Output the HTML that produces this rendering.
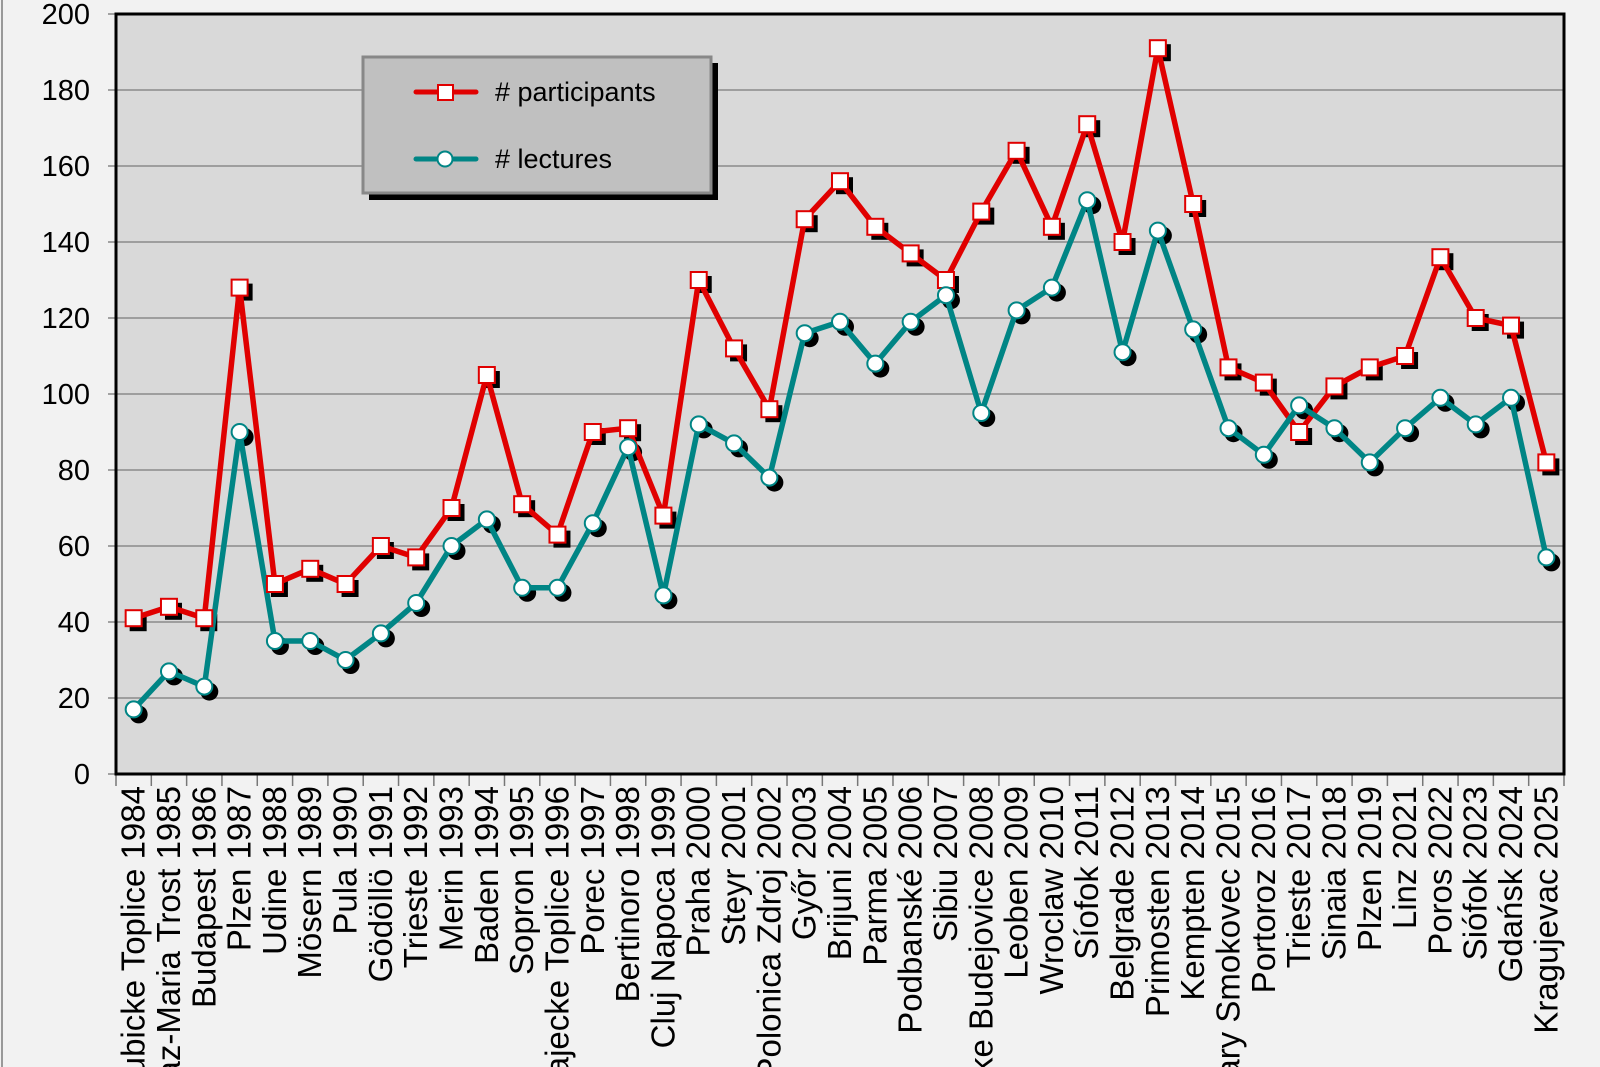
<!DOCTYPE html>
<html><head><meta charset="utf-8"><style>
html,body{margin:0;padding:0;background:#f2f2f2;overflow:hidden;width:1600px;height:1067px;}
svg{display:block;font-family:"Liberation Sans","DejaVu Sans",sans-serif;}
</style></head><body>
<svg id="c" width="1600" height="1067" xmlns="http://www.w3.org/2000/svg" overflow="hidden"></svg>
<script>
const P=[41,44,41,128,50,54,50,60,57,70,105,71,63,90,91,68,130,112,96,146,156,144,137,130,148,164,144,171,140,191,150,107,103,90,102,107,110,136,120,118,82];
const L=[17,27,23,90,35,35,30,37,45,60,67,49,49,66,86,47,92,87,78,116,119,108,119,126,95,122,128,151,111,143,117,91,84,97,91,82,91,99,92,99,57];
const N=["Lubicke Toplice 1984","Graz-Maria Trost 1985","Budapest 1986","Plzen 1987","Udine 1988","Mösern 1989","Pula 1990","Gödöllö 1991","Trieste 1992","Merin 1993","Baden 1994","Sopron 1995","Rajecke Toplice 1996","Porec 1997","Bertinoro 1998","Cluj Napoca 1999","Praha 2000","Steyr 2001","Polonica Zdroj 2002","Győr 2003","Brijuni 2004","Parma 2005","Podbanské 2006","Sibiu 2007","Ceske Budejovice 2008","Leoben 2009","Wroclaw 2010","Síofok 2011","Belgrade 2012","Primosten 2013","Kempten 2014","Stary Smokovec 2015","Portoroz 2016","Trieste 2017","Sinaia 2018","Plzen 2019","Linz 2021","Poros 2022","Siófok 2023","Gdańsk 2024","Kragujevac 2025"];
const x0=116,x1=1564,y0=774,y1=14,n=41,w=(x1-x0)/n;
const X=i=>x0+w*(i+0.5),Y=v=>y0-(y0-y1)*v/200;
let s='<line x1="2" y1="0" x2="2" y2="1067" stroke="#999" stroke-width="2"/>';
s+=`<rect x="${x0}" y="${y1}" width="${x1-x0}" height="${y0-y1}" fill="#d9d9d9"/>`;
for(let v=0;v<=200;v+=20){const y=Y(v);
 if(v>0&&v<200)s+=`<line x1="${x0}" y1="${y}" x2="${x1}" y2="${y}" stroke="#8a8a8a" stroke-width="1.5"/>`;
 s+=`<line x1="108" y1="${y}" x2="${x0}" y2="${y}" stroke="#888" stroke-width="1.5"/>`;
 s+=`<text x="90" y="${y+10}" font-size="29" text-anchor="end">${v}</text>`;}
for(let i=0;i<=n;i++){const x=x0+w*i;s+=`<line x1="${x}" y1="${y0}" x2="${x}" y2="786" stroke="#777" stroke-width="1.5"/>`;}
N.forEach((t,i)=>{s+=`<text transform="translate(${X(i)+11},786) rotate(-90)" font-size="33" text-anchor="end">${t}</text>`;});
P.forEach((v,i)=>{s+=`<rect x="${X(i)-4}" y="${Y(v)-4}" width="17" height="17" fill="#000"/>`;});
L.forEach((v,i)=>{s+=`<circle cx="${X(i)+5}" cy="${Y(v)+5}" r="9" fill="#000"/>`;});
s+=`<polyline fill="none" stroke="#e00000" stroke-width="5.5" stroke-linejoin="round" points="${P.map((v,i)=>X(i)+','+Y(v)).join(' ')}"/>`;
s+=`<polyline fill="none" stroke="#008585" stroke-width="5.5" stroke-linejoin="round" points="${L.map((v,i)=>X(i)+','+Y(v)).join(' ')}"/>`;
P.forEach((v,i)=>{s+=`<rect x="${X(i)-8}" y="${Y(v)-8}" width="16" height="16" fill="#fff" stroke="#e00000" stroke-width="2"/>`;});
L.forEach((v,i)=>{s+=`<circle cx="${X(i)}" cy="${Y(v)}" r="8" fill="#fff" stroke="#008585" stroke-width="2"/>`;});
s+=`<rect x="${x0}" y="${y1}" width="${x1-x0}" height="${y0-y1}" fill="none" stroke="#000" stroke-width="3"/>`;
s+=`<rect x="369" y="63" width="349" height="137" fill="#000"/>`;
s+=`<rect x="363" y="57" width="348" height="136" fill="#c0c0c0" stroke="#888" stroke-width="3"/>`;
s+=`<line x1="416" y1="92" x2="476" y2="92" stroke="#e00000" stroke-width="5" stroke-linecap="round"/><rect x="438" y="85" width="15" height="15" fill="#fff" stroke="#e00000" stroke-width="2"/>`;
s+=`<text x="495" y="101" font-size="27">#  participants</text>`;
s+=`<line x1="416" y1="159" x2="476" y2="159" stroke="#008585" stroke-width="5" stroke-linecap="round"/><circle cx="445" cy="159" r="7.5" fill="#fff" stroke="#008585" stroke-width="2"/>`;
s+=`<text x="495" y="168" font-size="27">#  lectures</text>`;
document.getElementById('c').innerHTML=s;
</script>
</body></html>
